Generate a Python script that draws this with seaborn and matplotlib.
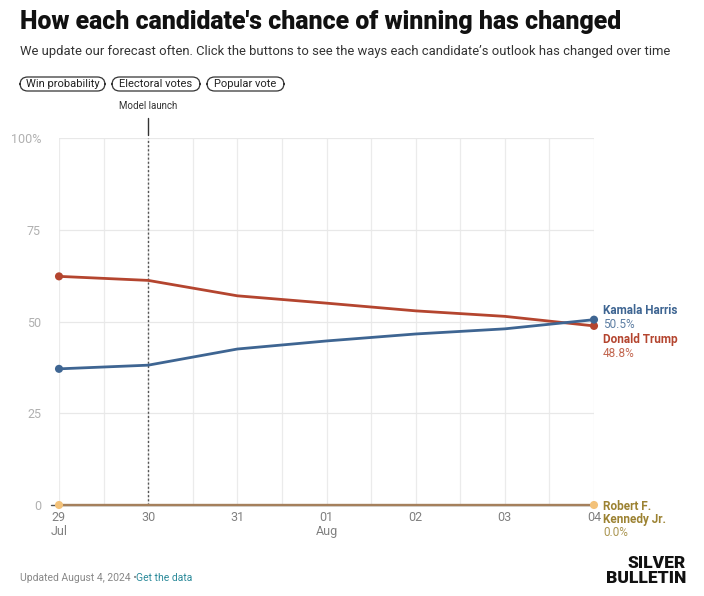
import matplotlib
matplotlib.use("Agg")
import matplotlib.pyplot as plt
from matplotlib.patches import FancyBboxPatch
import seaborn as sns
import pandas as pd
import numpy as np

days = [0, 1, 2, 3, 4, 5, 6]
day_labels = ["29\nJul", "30", "31", "01\nAug", "02", "03", "04"]
harris = [37.1, 38.1, 42.5, 44.7, 46.6, 48.0, 50.5]
trump = [62.3, 61.2, 57.0, 55.0, 52.9, 51.4, 48.8]
rfk = [0.0, 0.0, 0.0, 0.0, 0.0, 0.0, 0.0]
candidates = ["Kamala Harris", "Donald Trump", "Robert F.\nKennedy Jr."]
colors = {"Kamala Harris": "#3e6592", "Donald Trump": "#b4452f", "Robert F.\nKennedy Jr.": "#a5805c"}
label_colors = {"Kamala Harris": "#3e6592", "Donald Trump": "#b4452f", "Robert F.\nKennedy Jr.": "#9c8232"}
marker_colors = {"Kamala Harris": "#3e6592", "Donald Trump": "#b4452f", "Robert F.\nKennedy Jr.": "#f3c27a"}
y_ticks = [0, 25, 50, 75, 100]
y_labels = ["0", "25", "50", "75", "100%"]

df = pd.DataFrame({
    "day": days * 3,
    "value": harris + trump + rfk,
    "candidate": [candidates[0]] * 7 + [candidates[1]] * 7 + [candidates[2]] * 7,
})

sns.set_style("white")
plt.rcParams['font.family'] = ['Roboto', 'DejaVu Sans']

fig = plt.figure(figsize=(7.04, 5.96), dpi=100)
W, H = 704, 596
x0, x1 = 59, 594
y0, y1 = 505, 138
ax = fig.add_axes([x0 / W, 1 - y0 / H, (x1 - x0) / W, (y0 - y1) / H])

for c in [candidates[2], candidates[1], candidates[0]]:
    sub = df[df["candidate"] == c]
    sns.lineplot(data=sub, x="day", y="value", ax=ax, color=colors[c], lw=2.0 if c != candidates[2] else 1.7,
                 legend=False, clip_on=False, zorder=3)
    ends = sub.iloc[[0, -1]]
    ax.scatter(ends["day"], ends["value"], s=34, color=marker_colors[c], zorder=4, clip_on=False,
               edgecolor="none")

ax.set_xlim(0, 6)
ax.set_ylim(0, 100)
for g in np.arange(0, 6.01, 0.5):
    ax.axvline(g, color="#ebebeb", lw=0.9, zorder=0)
for t in y_ticks[1:]:
    ax.axhline(t, color="#e8e8e8", lw=0.9, zorder=0)
ax.axhline(0, color="#555555", lw=1.0, zorder=1, xmin=-0.015, clip_on=False)

ax.set_xticks(days)
ax.set_xticklabels(day_labels, color="#808080", fontsize=9, linespacing=1.15)
ax.set_yticks(y_ticks)
ax.set_yticklabels(y_labels, color="#b0b0b0", fontsize=9)
ax.tick_params(axis="x", length=0, pad=4)
ax.tick_params(axis="y", length=0, pad=13)
for s in ax.spines.values():
    s.set_visible(False)
ax.set_xlabel("")
ax.set_ylabel("")

# model launch line
ax.plot([1, 1], [0, 100], color="#555555", lw=1.0, ls=(0, (1.5, 1.5)), zorder=2)
ax.plot([1, 1], [100.8, 105.5], color="#333333", lw=1.0, clip_on=False, zorder=2)
ax.text(1, 108.8, "Model launch", ha="center", va="center", fontsize=7, color="#333333")

# end labels
lx = 6.10
fs = 8.5
ax.text(lx, 53.1, "Kamala Harris", color=label_colors["Kamala Harris"], fontsize=fs,
        fontweight="bold", va="center", ha="left", clip_on=False)
ax.text(lx, 49.3, "50.5%", color="#5d7ea3", fontsize=fs,
        va="center", ha="left", clip_on=False)
ax.text(lx, 45.0, "Donald Trump", color=label_colors["Donald Trump"], fontsize=fs,
        fontweight="bold", va="center", ha="left", clip_on=False)
ax.text(lx, 41.4, "48.8%", color="#c2664f", fontsize=fs,
        va="center", ha="left", clip_on=False)
ax.text(lx, -0.3, "Robert F.", color=label_colors[candidates[2]], fontsize=fs,
        fontweight="bold", va="center", ha="left", clip_on=False)
ax.text(lx, -3.9, "Kennedy Jr.", color=label_colors[candidates[2]], fontsize=fs,
        fontweight="bold", va="center", ha="left", clip_on=False)
ax.text(lx, -7.5, "0.0%", color="#aa9550", fontsize=fs,
        va="center", ha="left", clip_on=False)

# header
fig.text(20 / W, 1 - 22 / H, "How each candidate's chance of winning has changed",
         fontsize=17.9, fontweight="black", color="#111111", va="center", ha="left")
fig.text(20 / W, 1 - 51 / H,
         "We update our forecast often. Click the buttons to see the ways each candidate\u2019s outlook has changed over time",
         fontsize=9.4, color="#333333", va="center", ha="left")
for lbl, bx0, bx1 in [("Win probability", 20, 105), ("Electoral votes", 112, 200), ("Popular vote", 207, 284)]:
    p = FancyBboxPatch((bx0 / W, 1 - 91 / H), (bx1 - bx0) / W, 14 / H,
                       boxstyle="round,pad=0,rounding_size=0.011", transform=fig.transFigure,
                       fc="white", ec="#333333", lw=0.9, mutation_aspect=W / H)
    fig.patches.append(p)
    fig.text((bx0 + bx1) / 2 / W, 1 - 84 / H, lbl, fontsize=8, color="#222222", ha="center", va="center")

# footer
fig.text(20 / W, 1 - 578 / H, "Updated August 4, 2024 \u2022", fontsize=7.5, color="#888888",
         va="center", ha="left")
fig.text(136 / W, 1 - 578 / H, "Get the data", fontsize=7.5, color="#2b8a9a", va="center", ha="left")
fig.text(686 / W, 1 - 563 / H, "SILVER", fontsize=12.5, fontweight="black", color="#111111",
         va="center", ha="right")
fig.text(686 / W, 1 - 578 / H, "BULLETIN", fontsize=12.5, fontweight="black", color="#111111",
         va="center", ha="right")

fig.savefig("out.png", dpi=100)
